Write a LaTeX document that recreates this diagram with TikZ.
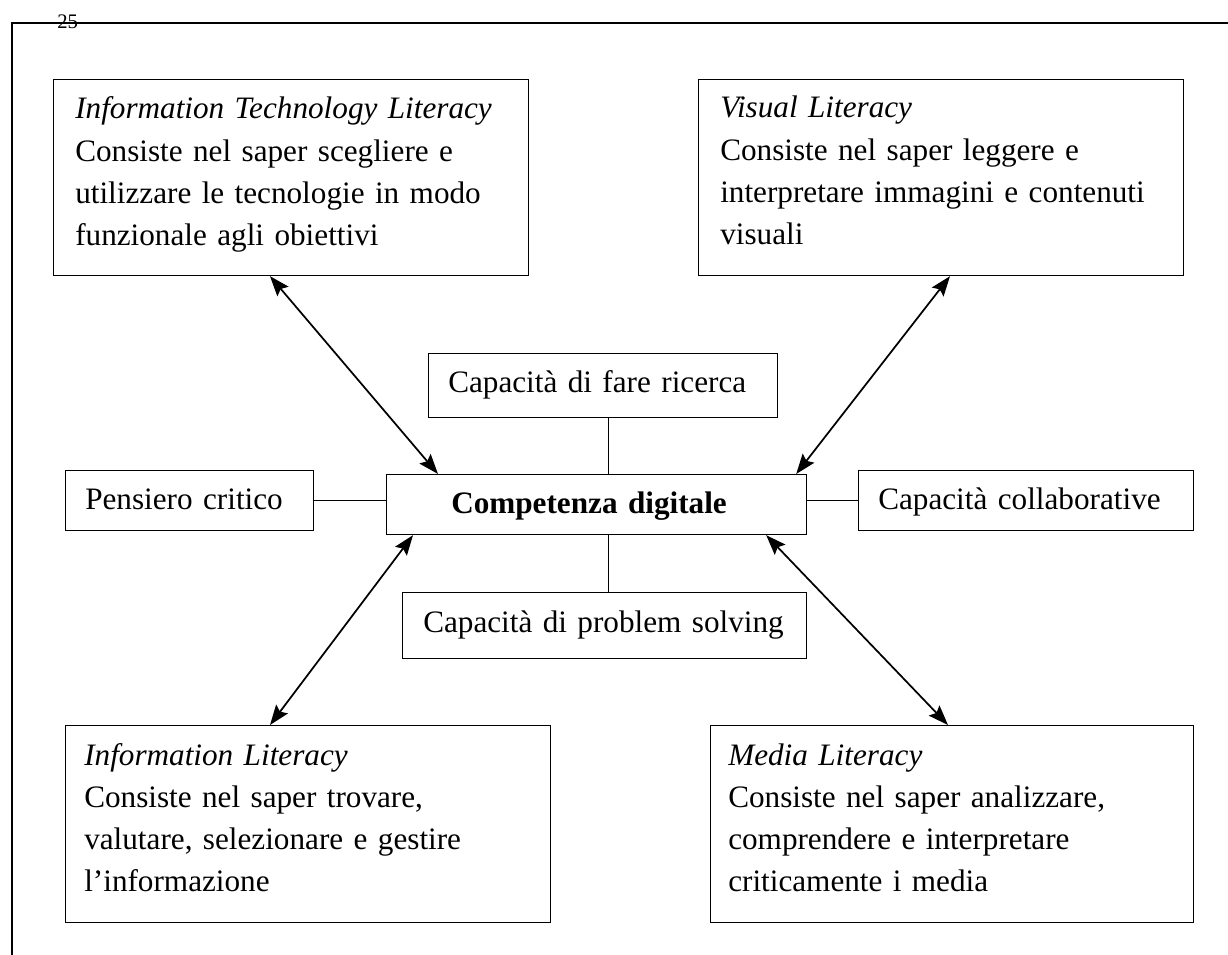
\documentclass[tikz,border=0pt]{standalone}
\usepackage{fontspec}
\setmainfont{Liberation Serif}
\usetikzlibrary{arrows.meta}
\begin{document}
\begin{tikzpicture}[x=0.75pt,y=-0.75pt,
  box/.style={draw, line width=0.9pt, inner sep=0pt, anchor=north west},
  txt/.style={font=\fontsize{23.4}{31.7}\selectfont, inner sep=0pt, anchor=base west, align=left, text width=#1},
  txt/.default=380pt,
  dbl/.style={{Stealth[length=15pt,width=11pt,inset=2.5pt]}-{Stealth[length=15pt,width=11pt,inset=2.5pt]}, line width=1.3pt},
  link/.style={line width=0.9pt},
  frame/.style={line width=1.2pt}]
\useasboundingbox (0,0) rectangle (1228,955);
% frame
\draw[frame] (1228,23) -- (12,23) -- (12,955);
\node[inner sep=0pt, anchor=base west, font=\fontsize{15.5}{18}\selectfont] (pg) at (57,29) {25};

% boxes
\node[box, minimum width=356.25pt, minimum height=147pt] (itl) at (53,79) {};
\node[box, minimum width=363.75pt, minimum height=147pt] (vis) at (698,79) {};
\node[box, minimum width=261.75pt, minimum height=48pt] (fr) at (428,353) {};
\node[box, minimum width=186pt, minimum height=45pt] (pc) at (65,470) {};
\node[box, minimum width=315pt, minimum height=45pt] (cd) at (386,474) {};
\node[box, minimum width=251.25pt, minimum height=45pt] (cc) at (858,470) {};
\node[box, minimum width=303pt, minimum height=49.5pt] (ps) at (402,592) {};
\node[box, minimum width=363.75pt, minimum height=147.75pt] (il) at (65,725) {};
\node[box, minimum width=362.25pt, minimum height=147.75pt] (ml) at (710,725) {};

% texts
\node[txt] (itlt) at (75,119) {\textit{Information Technology Literacy}\\Consiste nel saper scegliere e\\utilizzare le tecnologie in modo\\funzionale agli obiettivi};
\node[txt] (vist) at (720,118) {\textit{Visual Literacy}\\Consiste nel saper leggere e\\interpretare immagini e contenuti\\visuali};
\node[txt] (frt) at (448,393) {Capacità di fare ricerca};
\node[txt] (pct) at (85,509) {Pensiero critico};
\node[txt] (cdt) at (451,513) {\textbf{Competenza digitale}};
\node[txt] (cct) at (878,509) {Capacità collaborative};
\node[txt] (pst) at (423,632) {Capacità di problem solving};
\node[txt] (ilt) at (84,765) {\textit{Information Literacy}\\Consiste nel saper trovare,\\valutare, selezionare e gestire\\l’informazione};
\node[txt] (mlt) at (728,765) {\textit{Media Literacy}\\Consiste nel saper analizzare,\\comprendere e interpretare\\criticamente i media};

% plain links
\draw[link] ([xshift=4pt]fr.south) -- ([xshift=4pt]fr.south |- cd.north);
\draw[link] ([xshift=3pt]ps.north) -- ([xshift=3pt]ps.north |- cd.south);
\draw[link] (pc.east) -- (pc.east -| cd.west);
\draw[link] (cd.east |- cc.west) -- (cc.west);

% double arrows
\draw[dbl] ([xshift=162.75pt]itl.south west) -- ([xshift=39pt]cd.north west);
\draw[dbl] ([xshift=189pt]vis.south west) -- ([xshift=-8.25pt]cd.north east);
\draw[dbl] ([xshift=20.25pt]cd.south west) -- ([xshift=153.75pt]il.north west);
\draw[dbl] ([xshift=-30.75pt]cd.south east) -- ([xshift=178.5pt]ml.north west);
\end{tikzpicture}
\end{document}
